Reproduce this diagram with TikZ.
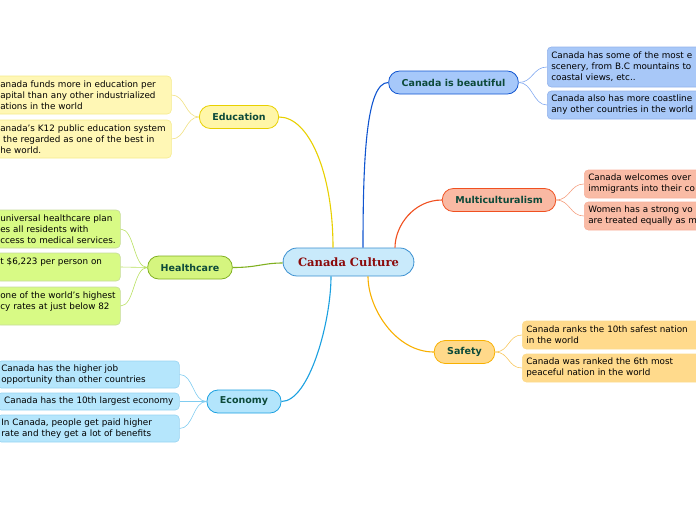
\documentclass[tikz,border=0pt]{standalone}
\usepackage{fontspec}
\setmainfont{DejaVu Sans}
\newfontfamily\titlefont{DejaVu Serif}
\usepackage{tikz}
\usetikzlibrary{calc}
\usetikzlibrary{positioning}
\newcommand{\leaffont}{\fontsize{8.8pt}{11pt}\selectfont}
\newcommand{\branchfont}{\fontsize{9.5pt}{11pt}\selectfont\bfseries}
\newcommand{\centrefont}{\titlefont\fontsize{11.5pt}{13pt}\selectfont\bfseries}
\definecolor{branchtext}{HTML}{0D4A3A}
\definecolor{titletext}{HTML}{8B0A0A}
\definecolor{ccfill}{HTML}{C9EAFB}
\definecolor{ccline}{HTML}{3A8FD0}
% one set of colours for each branch
\definecolor{eduline}{HTML}{E8D000}
\definecolor{edufill}{HTML}{FFF6A8}
\definecolor{eduedge}{HTML}{F0E080}
\definecolor{eduleaf}{HTML}{FFF7B5}
\definecolor{healline}{HTML}{80B020}
\definecolor{healfill}{HTML}{D5F57F}
\definecolor{healedge}{HTML}{B8E060}
\definecolor{healleaf}{HTML}{D8FA85}
\definecolor{ecoline}{HTML}{1AA0E0}
\definecolor{ecofill}{HTML}{B3E5FC}
\definecolor{ecoedge}{HTML}{80CCF0}
\definecolor{ecoleaf}{HTML}{B5E6FC}
\definecolor{bealine}{HTML}{1055D0}
\definecolor{beafill}{HTML}{A6C8FA}
\definecolor{beaedge}{HTML}{80A8F0}
\definecolor{bealeaf}{HTML}{A8C8F8}
\definecolor{mulline}{HTML}{F05020}
\definecolor{mulfill}{HTML}{F9B9A3}
\definecolor{muledge}{HTML}{F5A080}
\definecolor{mulleaf}{HTML}{F9BBA5}
\definecolor{safline}{HTML}{F8B000}
\definecolor{saffill}{HTML}{FFD98A}
\definecolor{safedge}{HTML}{F8C860}
\definecolor{safleaf}{HTML}{FFDA8C}

\begin{document}
\begin{tikzpicture}[
x=1pt,y=-1pt,
Central/.style={draw=ccline,fill=ccfill,line width=0.8pt,rounded corners=14pt,
  minimum height=28pt,inner xsep=15pt,font=\centrefont,text=titletext},
Branch/.style={draw=#1line,fill=#1fill,line width=0.8pt,rounded corners=11pt,
  minimum height=23pt,inner xsep=13pt,inner ysep=2pt,font=\branchfont,text=branchtext},
Leaf/.style={draw=#1line!45,fill=#1leaf,line width=0.6pt,rounded corners=4pt,
  align=left,font=\leaffont,inner xsep=4pt,inner ysep=3pt,anchor=west},
Link/.style={draw=#1line,line width=1.1pt},
Twig/.style={draw=#1edge,line width=0.6pt}
]
\useasboundingbox (0,0) rectangle (696,520);
\clip (0,0) rectangle (696,520);

% centre and main branches
\node[Central] (cc) at (348.5,262) {Canada Culture};
\node[Branch=edu] (edu) at (239,117) {Education};
\node[Branch=heal] (heal) at (190,267.5) {Healthcare};
\node[Branch=eco] (eco) at (244,401.5) {Economy};
\node[Branch=bea] (bea) at (453.5,82.5) {Canada is beautiful};
\node[Branch=mul] (mul) at (499,200) {Multiculturalism};
\node[Branch=saf] (saf) at (464.5,352) {Safety};

% leaves on the left
\node[Leaf=edu,text width=167pt,minimum height=38pt] (edu1) at (-4,95)
  {anada funds more in education per\\apital than any other industrialized\\ations in the world};
\node[Leaf=edu,text width=167pt,minimum height=38pt] (edu2) at (-4,139)
  {anada's K12 public education system\\ \ the regarded as one of the best in\\he world.};

\node[Leaf=heal,text width=116pt,minimum height=38pt] (heal1) at (-4,229)
  {universal healthcare plan\\es all residents with\\ccess to medical services.};
\node[Leaf=heal,text width=116pt,minimum height=28pt] (heal2) at (-4,267)
  {t \$6,223 per person on\\ \mbox{}};
\node[Leaf=heal,text width=116pt,minimum height=38pt] (heal3) at (-4,306)
  {one of the world's highest\\cy rates at just below 82\\ \mbox{}};

\node[Leaf=eco,text width=174pt,minimum height=27pt] (eco1) at (-3,374.5)
  {Canada has the higher job\\opportunity than other countries};
\node[Leaf=eco,text width=174pt,minimum height=17pt] (eco2) at (-3,401.5)
  {\ Canada has the 10th largest economy};
\node[Leaf=eco,text width=174pt,minimum height=27pt] (eco3) at (-3,428.5)
  {In Canada, people get paid higher\\rate and they get a lot of benefits};

% leaves on the right
\node[Leaf=bea,text width=200pt,minimum height=40pt] (bea1) at (547,67)
  {Canada has some of the most e\\scenery, from B.C mountains to\\coastal views, etc..};
\node[Leaf=bea,text width=200pt,minimum height=28pt] (bea2) at (547,105)
  {Canada also has more coastline\\any other countries in the world};

\node[Leaf=mul,text width=200pt,minimum height=28pt] (mul1) at (584,184)
  {Canada welcomes over\\immigrants into their co};
\node[Leaf=mul,text width=200pt,minimum height=28pt] (mul2) at (584,216)
  {Women has a strong vo\\are treated equally as m};

\node[Leaf=saf,text width=200pt,minimum height=28pt] (saf1) at (522,335)
  {Canada ranks the 10th safest nation\\in the world};
\node[Leaf=saf,text width=200pt,minimum height=28pt] (saf2) at (522,368)
  {Canada was ranked the 6th most\\peaceful nation in the world};

% main links
\draw[Link=edu] (edu.east) .. controls +(30,0) and +(0,-75) .. ($(cc.north)+(-15.5,0)$);
\draw[Link=heal] (heal.east) .. controls +(25,0) and +(-20,0) .. ($(cc.west)+(0,1)$);
\draw[Link=eco] (eco.east) .. controls +(28,0) and +(0,45) .. ($(cc.south)+(-17.5,0)$);
\draw[Link=bea] (bea.west) .. controls +(-22,0) and +(0,-90) .. ($(cc.north)+(14.5,0)$);
\draw[Link=mul] (mul.west) .. controls +(-28,0) and +(0,-22) .. ($(cc.north)+(46.5,0)$);
\draw[Link=saf] (saf.west) .. controls +(-38,0) and +(0,32) .. ($(cc.south)+(19.5,0)$);

% twigs to the leaves
\foreach \b/\l in {edu/edu1,edu/edu2,heal/heal1,heal/heal2,heal/heal3,eco/eco1,eco/eco2,eco/eco3}
  \draw[Twig=\b] (\b.west) .. controls +(-14,0) and +(14,0) .. (\l.east);
\foreach \b/\l in {bea/bea1,bea/bea2,mul/mul1,mul/mul2,saf/saf1,saf/saf2}
  \draw[Twig=\b] (\b.east) .. controls +(14,0) and +(-14,0) .. (\l.west);

\end{tikzpicture}
\end{document}
